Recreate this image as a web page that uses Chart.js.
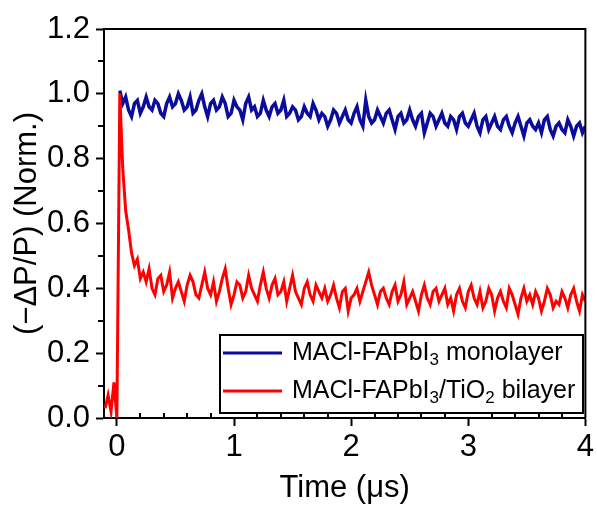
<!DOCTYPE html>
<html>
<head>
<meta charset="utf-8">
<script src="https://cdn.jsdelivr.net/npm/chart.js@4.4.1/dist/chart.umd.min.js"></script>
<style>
  html, body { margin: 0; padding: 0; background: #fff; }
  #wrap { width: 597px; height: 507px; }
</style>
</head>
<body>
<div id="wrap"><canvas id="chart" width="597" height="507"></canvas></div>
<script>
'use strict';

// ── Data ─────────────────────────────────────────────────────────────────────

const timeUs = [
  -0.1, -0.075, -0.05, -0.025, 0,
  0.025, 0.05, 0.075, 0.1, 0.125, 0.15, 0.175, 0.2, 0.225, 0.25,
  0.275, 0.3, 0.325, 0.35, 0.375, 0.4, 0.425, 0.45, 0.475, 0.5,
  0.525, 0.55, 0.575, 0.6, 0.625, 0.65, 0.675, 0.7, 0.725, 0.75,
  0.775, 0.8, 0.825, 0.85, 0.875, 0.9, 0.925, 0.95, 0.975, 1.0,
  1.025, 1.05, 1.075, 1.1, 1.125, 1.15, 1.175, 1.2, 1.225, 1.25,
  1.275, 1.3, 1.325, 1.35, 1.375, 1.4, 1.425, 1.45, 1.475, 1.5,
  1.525, 1.55, 1.575, 1.6, 1.625, 1.65, 1.675, 1.7, 1.725, 1.75,
  1.775, 1.8, 1.825, 1.85, 1.875, 1.9, 1.925, 1.95, 1.975, 2.0,
  2.025, 2.05, 2.075, 2.1, 2.125, 2.15, 2.175, 2.2, 2.225, 2.25,
  2.275, 2.3, 2.325, 2.35, 2.375, 2.4, 2.425, 2.45, 2.475, 2.5,
  2.525, 2.55, 2.575, 2.6, 2.625, 2.65, 2.675, 2.7, 2.725, 2.75,
  2.775, 2.8, 2.825, 2.85, 2.875, 2.9, 2.925, 2.95, 2.975, 3.0,
  3.025, 3.05, 3.075, 3.1, 3.125, 3.15, 3.175, 3.2, 3.225, 3.25,
  3.275, 3.3, 3.325, 3.35, 3.375, 3.4, 3.425, 3.45, 3.475, 3.5,
  3.525, 3.55, 3.575, 3.6, 3.625, 3.65, 3.675, 3.7, 3.725, 3.75,
  3.775, 3.8, 3.825, 3.85, 3.875, 3.9, 3.925, 3.95, 3.975, 4.0
];

const monolayer = [
  null, null, null, null, null,
  1.01, 0.97, 0.99, 0.95, 0.93, 0.97, 0.98, 0.94, 0.96, 0.99,
  0.96, 0.95, 0.98, 0.97, 0.94, 0.93, 0.97, 0.99, 0.96, 0.97,
  1.00, 0.98, 0.95, 0.96, 0.99, 0.94, 0.95, 0.98, 1.00, 0.96,
  0.93, 0.97, 0.98, 0.95, 0.96, 0.99, 0.97, 0.93, 0.94, 0.98,
  0.96, 0.95, 0.92, 0.97, 0.99, 0.95, 0.96, 0.93, 0.94, 0.98,
  0.95, 0.93, 0.96, 0.97, 0.94, 0.95, 0.98, 0.93, 0.94, 0.96,
  0.95, 0.92, 0.93, 0.96, 0.94, 0.93, 0.97, 0.95, 0.92, 0.94,
  0.93, 0.90, 0.92, 0.95, 0.94, 0.91, 0.93, 0.95, 0.92, 0.91,
  0.94, 0.96, 0.92, 0.90, 0.98, 0.93, 0.91, 0.92, 0.95, 0.93,
  0.91, 0.94, 0.95, 0.92, 0.89, 0.93, 0.94, 0.91, 0.92, 0.95,
  0.92, 0.90, 0.93, 0.94, 0.88, 0.91, 0.94, 0.93, 0.90, 0.92,
  0.94, 0.91, 0.90, 0.93, 0.92, 0.89, 0.93, 0.94, 0.91, 0.90,
  0.92, 0.94, 0.90, 0.88, 0.92, 0.93, 0.89, 0.91, 0.93, 0.90,
  0.89, 0.92, 0.93, 0.90, 0.88, 0.91, 0.93, 0.90, 0.87, 0.91,
  0.92, 0.90, 0.89, 0.91, 0.88, 0.92, 0.93, 0.89, 0.87, 0.90,
  0.91, 0.89, 0.88, 0.92, 0.90, 0.87, 0.90, 0.91, 0.88, 0.90
];

const bilayer = [
  0.03, 0.07, 0.02, 0.11, 0.00,
  1.00, 0.77, 0.64, 0.58, 0.51, 0.47, 0.49, 0.43, 0.45, 0.42,
  0.46, 0.40, 0.38, 0.43, 0.44, 0.39, 0.41, 0.45, 0.37, 0.40,
  0.42, 0.39, 0.36, 0.41, 0.44, 0.42, 0.38, 0.37, 0.41, 0.45,
  0.40, 0.38, 0.42, 0.36, 0.39, 0.43, 0.46, 0.40, 0.35, 0.38,
  0.42, 0.41, 0.37, 0.39, 0.44, 0.40, 0.38, 0.36, 0.41, 0.45,
  0.40, 0.37, 0.41, 0.43, 0.38, 0.39, 0.42, 0.36, 0.40, 0.44,
  0.39, 0.37, 0.35, 0.40, 0.42, 0.38, 0.36, 0.41, 0.39, 0.37,
  0.40, 0.36, 0.38, 0.41, 0.37, 0.34, 0.39, 0.40, 0.33, 0.37,
  0.38, 0.40, 0.36, 0.39, 0.42, 0.45, 0.41, 0.38, 0.35, 0.39,
  0.40, 0.37, 0.35, 0.39, 0.41, 0.36, 0.38, 0.42, 0.35, 0.37,
  0.39, 0.36, 0.33, 0.38, 0.41, 0.37, 0.35, 0.39, 0.40, 0.36,
  0.38, 0.40, 0.35, 0.37, 0.33, 0.38, 0.40, 0.36, 0.34, 0.39,
  0.41, 0.37, 0.35, 0.39, 0.34, 0.36, 0.40, 0.38, 0.33, 0.37,
  0.39, 0.36, 0.34, 0.40, 0.38, 0.35, 0.32, 0.37, 0.40, 0.36,
  0.38, 0.35, 0.39, 0.37, 0.33, 0.36, 0.40, 0.38, 0.34, 0.36,
  0.35, 0.39, 0.37, 0.34, 0.38, 0.40, 0.36, 0.33, 0.38, 0.36
];

const xTickValues  = [0, 1, 2, 3, 4];
const xMinorValues = [0.2, 0.4, 0.6, 0.8, 1.2, 1.4, 1.6, 1.8, 2.2, 2.4, 2.6, 2.8, 3.2, 3.4, 3.6, 3.8];
const yTickValues  = [0, 0.2, 0.4, 0.6, 0.8, 1.0, 1.2];
const yMinorValues = [0.1, 0.3, 0.5, 0.7, 0.9, 1.1];

// legend labels as [text, isSubscript] runs
const monoLabel = [['MACl-FAPbI', false], ['3', true], [' monolayer', false]];
const biLabel   = [['MACl-FAPbI', false], ['3', true], ['/TiO', false], ['2', true], [' bilayer', false]];

const BLUE = '#0b0b9c';
const RED  = '#ff0000';
const FONT = "'Liberation Sans', Arial, sans-serif";

// ── Helpers ──────────────────────────────────────────────────────────────────

function toPoints(ys) {
  return timeUs.map((t, i) => ({ x: t, y: ys[i] }));
}

function drawRuns(ctx, runs, x, y, size) {
  for (const [text, sub] of runs) {
    ctx.font = `${sub ? Math.round(size * 0.68) : size}px ${FONT}`;
    ctx.fillText(text, x, sub ? y + size * 0.28 : y);
    x += ctx.measureText(text).width;
  }
}

// ── Frame, minor ticks and legend ────────────────────────────────────────────

const decorations = {
  id: 'decorations',
  afterDraw(chart) {
    const { ctx, chartArea: a, scales: { x, y } } = chart;
    ctx.save();
    ctx.strokeStyle = '#000';
    ctx.lineWidth = 2;

    // top and right frame
    ctx.beginPath();
    ctx.moveTo(a.left, a.top);
    ctx.lineTo(a.right, a.top);
    ctx.lineTo(a.right, a.bottom);
    ctx.stroke();

    // minor ticks
    ctx.beginPath();
    for (const v of xMinorValues) {
      const px = Math.round(x.getPixelForValue(v));
      ctx.moveTo(px, a.bottom);
      ctx.lineTo(px, a.bottom - 5);
    }
    for (const v of yMinorValues) {
      const py = Math.round(y.getPixelForValue(v));
      ctx.moveTo(a.left, py);
      ctx.lineTo(a.left - 6, py);
    }
    ctx.stroke();

    // legend box
    const box = { left: 220, top: 335, right: 583, bottom: 413 };
    ctx.fillStyle = '#fff';
    ctx.fillRect(box.left, box.top, box.right - box.left, box.bottom - box.top);
    ctx.strokeRect(box.left, box.top, box.right - box.left, box.bottom - box.top);

    const rows = [
      { runs: monoLabel, color: BLUE, y: 353 },
      { runs: biLabel,   color: RED,  y: 391 },
    ];
    ctx.lineWidth = 3;
    ctx.textBaseline = 'middle';
    ctx.textAlign = 'left';
    for (const r of rows) {
      ctx.strokeStyle = r.color;
      ctx.beginPath();
      ctx.moveTo(223, r.y);
      ctx.lineTo(282, r.y);
      ctx.stroke();
      ctx.fillStyle = '#000';
      drawRuns(ctx, r.runs, 292, r.y, 25);
    }
    ctx.restore();
  }
};

// ── Chart ────────────────────────────────────────────────────────────────────

const tickFont = { family: FONT, size: 31 };

new Chart(document.getElementById('chart').getContext('2d'), {
  type: 'line',
  data: {
    datasets: [
      {
        label: 'MACl-FAPbI3 monolayer',
        data: toPoints(monolayer),
        borderColor: BLUE,
        borderWidth: 3.5,
        pointRadius: 0,
        tension: 0,
        order: 1,
      },
      {
        label: 'MACl-FAPbI3/TiO2 bilayer',
        data: toPoints(bilayer),
        borderColor: RED,
        borderWidth: 3,
        pointRadius: 0,
        tension: 0,
        order: 0,
      },
    ],
  },
  options: {
    responsive: false,
    animation: false,
    parsing: false,
    layout: { padding: { top: 29, right: 9, left: 0, bottom: 0 } },
    plugins: {
      legend: { display: false },
      tooltip: { enabled: false },
    },
    scales: {
      x: {
        type: 'linear',
        min: -0.11,
        max: 4,
        afterBuildTicks: s => { s.ticks = xTickValues.map(v => ({ value: v })); },
        afterFit: s => { s.height = 89; },
        grid: { drawOnChartArea: false, tickLength: 8, tickWidth: 2, tickColor: '#000' },
        border: { color: '#000', width: 2 },
        ticks: {
          font: tickFont, color: '#000', padding: 3,
          maxRotation: 0, autoSkip: false,
          callback: v => String(v),
        },
        title: {
          display: true, text: 'Time (μs)', color: '#000',
          font: tickFont, padding: { top: 0, bottom: 0 },
        },
      },
      y: {
        type: 'linear',
        min: 0,
        max: 1.2,
        afterBuildTicks: s => { s.ticks = yTickValues.map(v => ({ value: v })); },
        afterFit: s => { s.width = 104; },
        grid: { drawOnChartArea: false, tickLength: 8, tickWidth: 2, tickColor: '#000' },
        border: { color: '#000', width: 2 },
        ticks: {
          font: tickFont, color: '#000', padding: 6,
          autoSkip: false,
          callback: v => v.toFixed(1),
        },
        title: {
          display: true, text: '(−ΔP/P) (Norm.)', color: '#000',
          font: tickFont, padding: { top: 9, bottom: 0 },
        },
      },
    },
  },
  plugins: [decorations],
});
</script>
</body>
</html>
